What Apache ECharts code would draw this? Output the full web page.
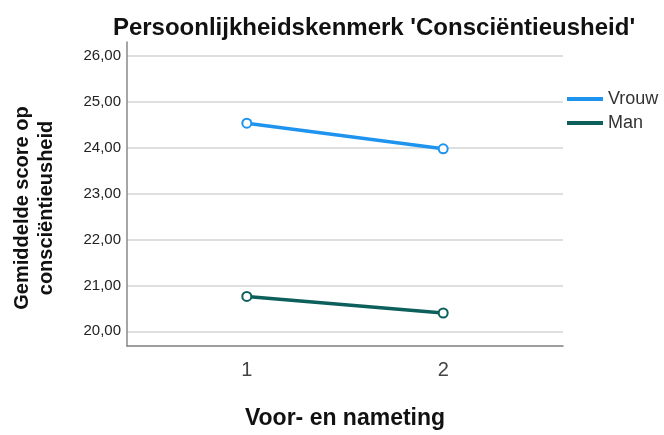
<!DOCTYPE html>
<html>
<head>
<meta charset="utf-8">
<script src="https://cdn.jsdelivr.net/npm/echarts@6/dist/echarts.min.js"></script>
<style>
  html, body { margin: 0; padding: 0; background: #fff; }
  #chart { width: 664px; height: 435px; }
</style>
</head>
<body>
<div id="chart"></div>
<script>
// meetmomenten (x-as)
const metingen = [1, 2]
// gemiddelde scores per geslacht
const vrouwScores = [24.54, 23.98]
const manScores = [20.76, 20.40]

const seriesNames = ['Vrouw', 'Man']
const seriesColors = ['#1e94ee', '#0c5f5b']

const fmtComma = v => v.toFixed(2).replace('.', ',')
const isWhole = v => Math.abs(v - Math.round(v)) < 1e-6

const chart = echarts.init(document.getElementById('chart'), null, { renderer: 'canvas' })

const makeSeries = (name, values, color) => ({
  name: name,
  type: 'line',
  data: metingen.map((m, i) => [m, values[i]]),
  symbol: 'circle',
  symbolSize: 9,
  showSymbol: true,
  lineStyle: { width: 3.5, color: color },
  itemStyle: { color: '#fff', borderColor: color, borderWidth: 2 },
  emphasis: { disabled: true }
})

chart.setOption({
  animation: false,
  textStyle: { fontFamily: 'Arial, "Liberation Sans", sans-serif' },
  title: {
    text: "Persoonlijkheidskenmerk 'Consciëntieusheid'",
    left: 369,
    top: 11,
    textAlign: 'center',
    textStyle: { fontSize: 24, fontWeight: 'bold', color: '#111' }
  },
  legend: {
    orient: 'vertical',
    left: 567,
    top: 89,
    padding: 0,
    itemWidth: 36,
    itemHeight: 4,
    itemGap: 4,
    icon: 'rect',
    data: seriesNames.map((n, i) => ({ name: n, itemStyle: { color: seriesColors[i], borderWidth: 0 } })),
    textStyle: { fontSize: 18, color: '#333', lineHeight: 20 }
  },
  grid: { left: 127, top: 42, width: 436, height: 307, containLabel: false },
  xAxis: {
    type: 'value',
    min: 0.39,
    max: 2.61,
    name: 'Voor- en nameting',
    nameLocation: 'middle',
    nameGap: 61,
    nameTextStyle: { fontSize: 23, fontWeight: 'bold', color: '#111' },
    axisLine: { show: true, lineStyle: { color: '#888', width: 1.5 } },
    axisTick: { show: false },
    splitLine: { show: false },
    axisLabel: {
      fontSize: 20,
      color: '#444',
      margin: 14,
      showMinLabel: false,
      showMaxLabel: false,
      formatter: v => (isWhole(v) && metingen.includes(Math.round(v))) ? String(Math.round(v)) : ''
    }
  },
  yAxis: {
    type: 'value',
    min: 19.68,
    max: 26.31,
    splitNumber: 6,
    name: 'Gemiddelde score op\nconsciëntieusheid',
    nameLocation: 'middle',
    nameGap: 69,
    nameTextStyle: { fontSize: 20, fontWeight: 'bold', color: '#111', lineHeight: 24, padding: [0, 28, 0, 0] },
    axisLine: { show: true, lineStyle: { color: '#888', width: 1.5 } },
    axisTick: { show: false },
    splitLine: { show: true, showMaxLine: false, lineStyle: { color: '#d4d4d4', width: 1.5 } },
    axisLabel: {
      fontSize: 15,
      color: '#222',
      margin: 6,
      showMinLabel: false,
      showMaxLabel: false,
      formatter: v => isWhole(v) ? fmtComma(v) : ''
    }
  },
  series: [
    makeSeries(seriesNames[0], vrouwScores, seriesColors[0]),
    makeSeries(seriesNames[1], manScores, seriesColors[1])
  ]
})
</script>
</body>
</html>
